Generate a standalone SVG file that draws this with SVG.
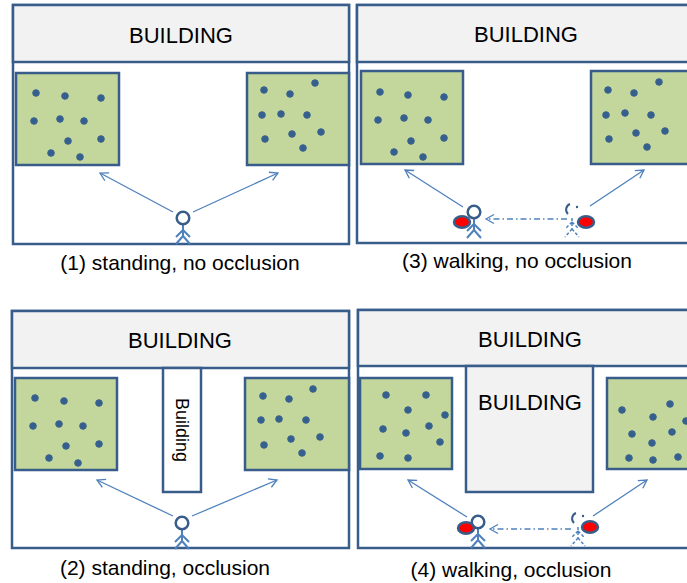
<svg xmlns="http://www.w3.org/2000/svg" width="687" height="583" viewBox="0 0 687 583">
  <style>
    .frame { fill: #ffffff; stroke: #385d8a; stroke-width: 2.5; }
    .header { fill: #f2f2f2; stroke: #385d8a; stroke-width: 2.5; }
    .field { fill: #c3d69b; stroke: #385d8a; stroke-width: 2.5; }
    .dot { fill: #35608e; stroke: #3a6290; stroke-width: 1; }
    .head { fill: #ffffff; stroke: #385d8a; stroke-width: 2.5; }
    .limb { fill: none; stroke: #4f81bd; stroke-width: 2; }
    .ghost { fill: none; stroke: #4f81bd; stroke-width: 1.5; stroke-dasharray: 3 2; }
    .tag { fill: #ff0000; stroke: #385d8a; stroke-width: 2.5; }
    .sight { fill: none; stroke: #4f81bd; stroke-width: 1.3; marker-end: url(#open); }
    .track { fill: none; stroke: #4f81bd; stroke-width: 1.3; stroke-dasharray: 6 3 1.5 3; marker-end: url(#open); }
    .big { font-family: "Liberation Sans", Arial, sans-serif; font-size: 22px; fill: #000; text-anchor: middle; }
    .cap { font-family: "Liberation Sans", Arial, sans-serif; font-size: 21px; fill: #000; text-anchor: middle; }
    .small { font-family: "Liberation Sans", Arial, sans-serif; font-size: 18px; fill: #000; text-anchor: middle; }
  </style>
  <defs>
    <marker id="open" markerUnits="userSpaceOnUse" markerWidth="20" markerHeight="20" refX="0" refY="0" viewBox="-10 -10 20 20" orient="auto">
      <path d="M-8,-4.5 L0,0 L-8,4.5" fill="none" stroke="#4f81bd" stroke-width="1.3"/>
    </marker>
    <!-- stick figure, origin at head centre -->
    <g id="person">
      <path class="limb" d="M0,7 V18 M0,12 L-7,19 M0,12 L7,19 M0,18 L-7,26 M0,18 L7,26"/>
      <circle class="head" cx="0" cy="0" r="6.3"/>
    </g>
    <!-- faded figure left behind by a walker -->
    <g id="trace">
      <path d="M2,-5 A6,6 0 0 0 0,5" fill="none" stroke="#385d8a" stroke-width="2"/>
      <circle cx="9" cy="-2" r="1.2" fill="#385d8a"/>
      <path class="ghost" d="M4,9 V20 M4,13 L-3,20 M4,13 L11,20 M4,20 L-3,28 M4,20 L11,28"/>
    </g>
  </defs>

  <!-- panel 1 -->
  <g id="panel1">
    <rect class="frame" x="13" y="5" width="336" height="239"/>
    <rect class="header" x="13" y="5" width="336" height="57"/>
    <text class="big" x="181" y="43">BUILDING</text>
    <rect class="field" x="16" y="73" width="103" height="92"/>
    <rect class="field" x="247" y="73" width="102" height="92"/>
    <g>
      <circle class="dot" cx="36" cy="93" r="3.3"/><circle class="dot" cx="65" cy="96" r="3.3"/>
      <circle class="dot" cx="101" cy="98" r="3.3"/><circle class="dot" cx="34" cy="121" r="3.3"/>
      <circle class="dot" cx="60" cy="119" r="3.3"/><circle class="dot" cx="84" cy="121" r="3.3"/>
      <circle class="dot" cx="68" cy="141" r="3.3"/><circle class="dot" cx="101" cy="139" r="3.3"/>
      <circle class="dot" cx="51" cy="153" r="3.3"/><circle class="dot" cx="80" cy="157" r="3.3"/>
      <circle class="dot" cx="264" cy="90" r="3.3"/><circle class="dot" cx="290" cy="94" r="3.3"/>
      <circle class="dot" cx="315" cy="83" r="3.3"/><circle class="dot" cx="262" cy="115" r="3.3"/>
      <circle class="dot" cx="281" cy="114" r="3.3"/><circle class="dot" cx="307" cy="115" r="3.3"/>
      <circle class="dot" cx="265" cy="139" r="3.3"/><circle class="dot" cx="292" cy="134" r="3.3"/>
      <circle class="dot" cx="321" cy="132" r="3.3"/><circle class="dot" cx="303" cy="148" r="3.3"/>
    </g>
    <use href="#person" x="183" y="218"/>
    <text class="cap" x="180" y="270">(1) standing, no occlusion</text>
  </g>

  <!-- panel 2 -->
  <g id="panel2">
    <rect class="frame" x="12" y="311" width="337" height="237"/>
    <rect class="header" x="12" y="311" width="337" height="57"/>
    <text class="big" x="180" y="348">BUILDING</text>
    <rect class="frame" x="163" y="368" width="38" height="124"/>
    <text class="small" transform="translate(176,430) rotate(90)">Building</text>
    <rect class="field" x="15" y="378" width="102" height="92"/>
    <rect class="field" x="245" y="378" width="104" height="92"/>
    <g>
      <circle class="dot" cx="35" cy="398" r="3.3"/><circle class="dot" cx="64" cy="401" r="3.3"/>
      <circle class="dot" cx="99" cy="403" r="3.3"/><circle class="dot" cx="33" cy="426" r="3.3"/>
      <circle class="dot" cx="59" cy="424" r="3.3"/><circle class="dot" cx="83" cy="426" r="3.3"/>
      <circle class="dot" cx="66" cy="446" r="3.3"/><circle class="dot" cx="99" cy="444" r="3.3"/>
      <circle class="dot" cx="49" cy="458" r="3.3"/><circle class="dot" cx="78" cy="463" r="3.3"/>
      <circle class="dot" cx="263" cy="396" r="3.3"/><circle class="dot" cx="289" cy="399" r="3.3"/>
      <circle class="dot" cx="313" cy="389" r="3.3"/><circle class="dot" cx="261" cy="420" r="3.3"/>
      <circle class="dot" cx="279" cy="419" r="3.3"/><circle class="dot" cx="306" cy="420" r="3.3"/>
      <circle class="dot" cx="264" cy="445" r="3.3"/><circle class="dot" cx="291" cy="439" r="3.3"/>
      <circle class="dot" cx="320" cy="437" r="3.3"/><circle class="dot" cx="302" cy="453" r="3.3"/>
    </g>
    <use href="#person" x="182" y="523"/>
    <text class="cap" x="165" y="575">(2) standing, occlusion</text>
  </g>

  <!-- panel 3 -->
  <g id="panel3">
    <rect class="frame" x="357" y="5" width="345" height="238"/>
    <rect class="header" x="357" y="5" width="345" height="57"/>
    <text class="big" x="526" y="42">BUILDING</text>
    <rect class="field" x="361" y="71" width="102" height="93"/>
    <rect class="field" x="591" y="71" width="110" height="93"/>
    <g>
      <circle class="dot" cx="380" cy="92" r="3.3"/><circle class="dot" cx="408" cy="95" r="3.3"/>
      <circle class="dot" cx="444" cy="97" r="3.3"/><circle class="dot" cx="378" cy="120" r="3.3"/>
      <circle class="dot" cx="404" cy="118" r="3.3"/><circle class="dot" cx="428" cy="120" r="3.3"/>
      <circle class="dot" cx="411" cy="141" r="3.3"/><circle class="dot" cx="444" cy="138" r="3.3"/>
      <circle class="dot" cx="394" cy="152" r="3.3"/><circle class="dot" cx="423" cy="157" r="3.3"/>
      <circle class="dot" cx="608" cy="90" r="3.3"/><circle class="dot" cx="634" cy="93" r="3.3"/>
      <circle class="dot" cx="659" cy="82" r="3.3"/><circle class="dot" cx="606" cy="115" r="3.3"/>
      <circle class="dot" cx="625" cy="113" r="3.3"/><circle class="dot" cx="651" cy="115" r="3.3"/>
      <circle class="dot" cx="609" cy="139" r="3.3"/><circle class="dot" cx="636" cy="133" r="3.3"/>
      <circle class="dot" cx="665" cy="131" r="3.3"/><circle class="dot" cx="647" cy="147" r="3.3"/>
    </g>
    <use href="#person" x="474" y="212"/>
    <ellipse class="tag" cx="462" cy="222" rx="8" ry="5.8"/>
    <use href="#trace" x="568" y="209"/>
    <ellipse class="tag" cx="586" cy="222" rx="8" ry="5.8"/>
    <text class="cap" x="517" y="268">(3) walking, no occlusion</text>
  </g>

  <!-- panel 4 -->
  <g id="panel4">
    <rect class="frame" x="358" y="310" width="345" height="238"/>
    <rect class="header" x="358" y="310" width="345" height="56"/>
    <text class="big" x="530" y="347">BUILDING</text>
    <rect class="header" x="466" y="366" width="127" height="126"/>
    <text class="big" x="530" y="410">BUILDING</text>
    <rect class="field" x="360" y="378" width="92" height="91"/>
    <rect class="field" x="607" y="378" width="95" height="91"/>
    <g>
      <circle class="dot" cx="386" cy="395" r="3.3"/><circle class="dot" cx="426" cy="395" r="3.3"/>
      <circle class="dot" cx="408" cy="410" r="3.3"/><circle class="dot" cx="445" cy="415" r="3.3"/>
      <circle class="dot" cx="383" cy="429" r="3.3"/><circle class="dot" cx="406" cy="433" r="3.3"/>
      <circle class="dot" cx="429" cy="426" r="3.3"/><circle class="dot" cx="440" cy="442" r="3.3"/>
      <circle class="dot" cx="380" cy="456" r="3.3"/><circle class="dot" cx="408" cy="458" r="3.3"/>
      <circle class="dot" cx="622" cy="410" r="3.3"/><circle class="dot" cx="653" cy="417" r="3.3"/>
      <circle class="dot" cx="670" cy="404" r="3.3"/><circle class="dot" cx="686" cy="421" r="3.3"/>
      <circle class="dot" cx="632" cy="434" r="3.3"/><circle class="dot" cx="672" cy="432" r="3.3"/>
      <circle class="dot" cx="652" cy="443" r="3.3"/><circle class="dot" cx="629" cy="458" r="3.3"/>
      <circle class="dot" cx="653" cy="460" r="3.3"/><circle class="dot" cx="678" cy="457" r="3.3"/>
    </g>
    <use href="#person" x="478" y="522"/>
    <ellipse class="tag" cx="466" cy="528" rx="8" ry="5.8"/>
    <use href="#trace" x="574" y="518"/>
    <ellipse class="tag" cx="590" cy="527" rx="8" ry="5.8"/>
    <text class="cap" x="511" y="577">(4) walking, occlusion</text>
  </g>

  <!-- lines of sight and walking tracks -->
  <g id="connectors">
    <line class="sight" x1="173" y1="212" x2="100" y2="173"/>
    <line class="sight" x1="193" y1="212" x2="278" y2="173"/>
    <line class="sight" x1="173" y1="516" x2="97" y2="480"/>
    <line class="sight" x1="192" y1="516" x2="277" y2="480"/>
    <line class="sight" x1="463" y1="207" x2="405" y2="170"/>
    <line class="sight" x1="590" y1="206" x2="644" y2="170"/>
    <line class="sight" x1="467" y1="517" x2="408" y2="480"/>
    <line class="sight" x1="593" y1="516" x2="647" y2="480"/>
    <line class="track" x1="567" y1="219" x2="486" y2="219"/>
    <line class="track" x1="571" y1="529" x2="490" y2="529"/>
  </g>
</svg>
